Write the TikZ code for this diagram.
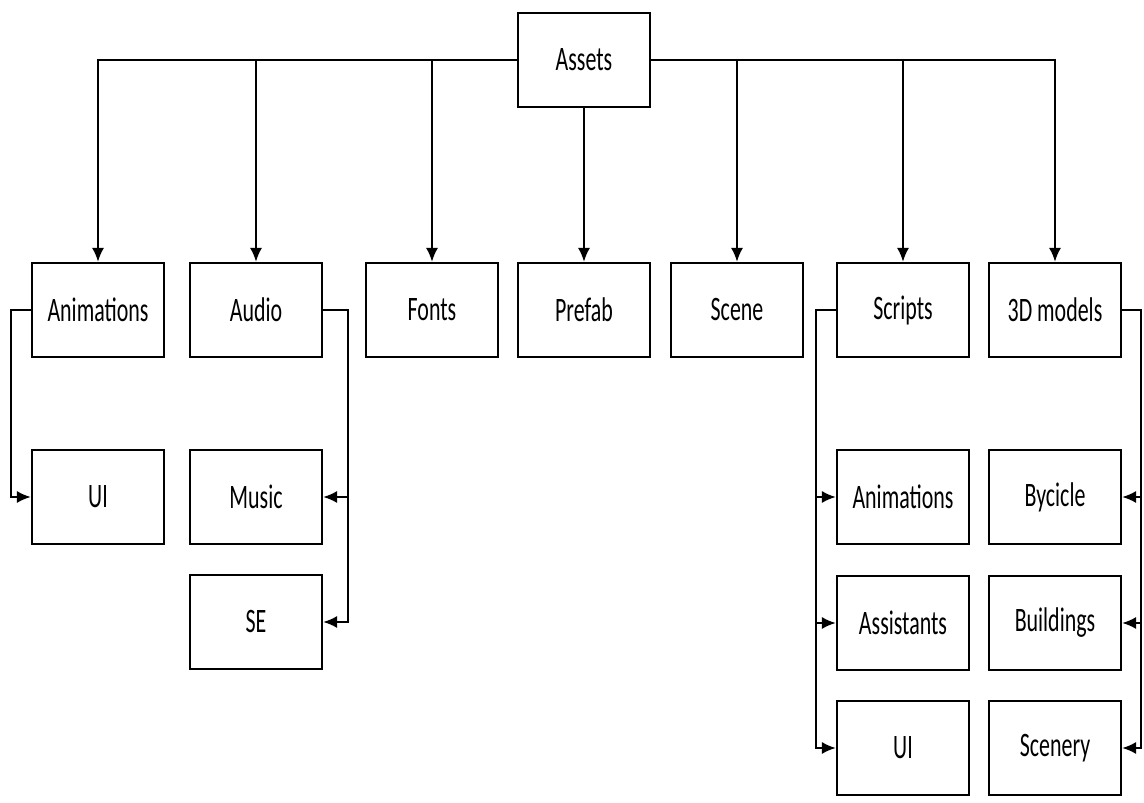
\documentclass[tikz,border=0pt]{standalone}
\usepackage{fontspec}
\setmainfont{Carlito}[FakeStretch=0.64]
\usetikzlibrary{arrows.meta}
\tikzset{
  box/.style={draw,line width=1.3pt,minimum width=2.64cm,minimum height=1.88cm,
    inner sep=0pt,font=\fontsize{19.5}{22}\selectfont},
  link/.style={line width=1.3pt,-{Latex[length=8pt,width=7pt]}}
}
\begin{document}
\begin{tikzpicture}[x=0.02cm,y=-0.02cm]
\useasboundingbox (0,0) rectangle (1144,803);
\node[box] (assets) at (584,60) {Assets};
% first level
\foreach \n/\x/\t in {anim/98/Animations, audio/256/Audio, fonts/432/Fonts,
    prefab/584/Prefab, scene/737/Scene, scripts/903/Scripts, models/1055/3D models}
  \node[box] (\n) at (\x,310) {\t};
% second level
\node[box] (ui) at (98,497) {UI};
\node[box] (music) at (256,497) {Music};
\node[box] (se) at (256,622) {SE};
\foreach \n/\y/\t in {sanim/497/Animations, sassist/623/Assistants, sui/748/UI}
  \node[box] (\n) at (903,\y) {\t};
\foreach \n/\y/\t in {bike/497/Bycicle, build/623/Buildings, scenery/748/Scenery}
  \node[box] (\n) at (1055,\y) {\t};
% bus from Assets
\foreach \n in {anim,audio,fonts}
  \draw[link] (assets.west) -| (\n.north);
\foreach \n in {scene,scripts,models}
  \draw[link] (assets.east) -| (\n.north);
\draw[link] (assets.south) -- (prefab.north);
% sub folders
\draw[link] (anim.west) -- ++(-20,0) |- (ui.west);
\foreach \n in {music,se}
  \draw[link] (audio.east) -- ++(25,0) |- (\n.east);
\foreach \n in {sanim,sassist,sui}
  \draw[link] (scripts.west) -- ++(-20,0) |- (\n.west);
\foreach \n in {bike,build,scenery}
  \draw[link] (models.east) -- ++(19,0) |- (\n.east);
\end{tikzpicture}
\end{document}
